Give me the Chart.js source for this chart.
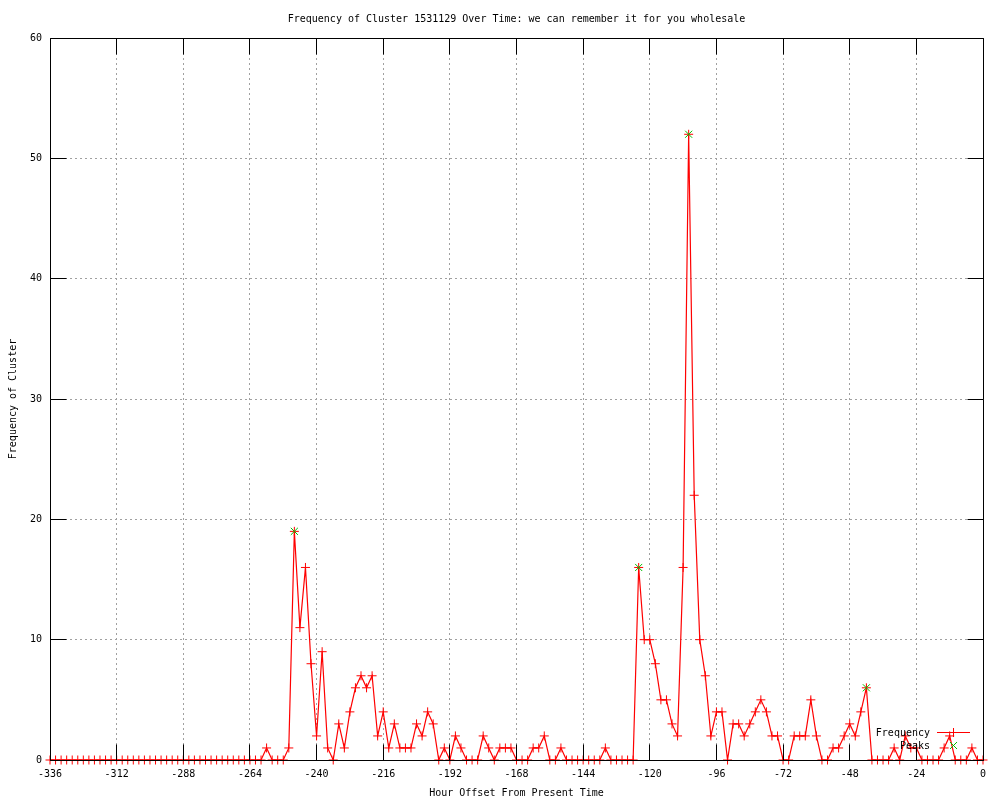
<!DOCTYPE html>
<html lang="en">
<head>
  <meta charset="UTF-8">
  <title>Frequency of Cluster 1531129 Over Time</title>
  <script src="https://cdn.jsdelivr.net/npm/chart.js"></script>
  <style>
    body { margin: 0; background: #fff; }
    #wrap { width: 1000px; height: 800px; }
  </style>
</head>
<body>
  <div id="wrap"><canvas id="freqChart" width="1000" height="800"></canvas></div>

  <script>
    // hour offsets (x) and cluster frequency (y), one row = 24 hours
    const hours = [
      -336, -334, -332, -330, -328, -326, -324, -322, -320, -318, -316, -314,
      -312, -310, -308, -306, -304, -302, -300, -298, -296, -294, -292, -290,
      -288, -286, -284, -282, -280, -278, -276, -274, -272, -270, -268, -266,
      -264, -262, -260, -258, -256, -254, -252, -250, -248, -246, -244, -242,
      -240, -238, -236, -234, -232, -230, -228, -226, -224, -222, -220, -218,
      -216, -214, -212, -210, -208, -206, -204, -202, -200, -198, -196, -194,
      -192, -190, -188, -186, -184, -182, -180, -178, -176, -174, -172, -170,
      -168, -166, -164, -162, -160, -158, -156, -154, -152, -150, -148, -146,
      -144, -142, -140, -138, -136, -134, -132, -130, -128, -126, -124, -122,
      -120, -118, -116, -114, -112, -110, -108, -106, -104, -102, -100, -98,
      -96, -94, -92, -90, -88, -86, -84, -82, -80, -78, -76, -74,
      -72, -70, -68, -66, -64, -62, -60, -58, -56, -54, -52, -50,
      -48, -46, -44, -42, -40, -38, -36, -34, -32, -30, -28, -26,
      -24, -22, -20, -18, -16, -14, -12, -10, -8, -6, -4, -2,
      0
    ];
    const frequency = [
      0, 0, 0, 0, 0, 0, 0, 0, 0, 0, 0, 0,
      0, 0, 0, 0, 0, 0, 0, 0, 0, 0, 0, 0,
      0, 0, 0, 0, 0, 0, 0, 0, 0, 0, 0, 0,
      0, 0, 0, 1, 0, 0, 0, 1, 19, 11, 16, 8,
      2, 9, 1, 0, 3, 1, 4, 6, 7, 6, 7, 2,
      4, 1, 3, 1, 1, 1, 3, 2, 4, 3, 0, 1,
      0, 2, 1, 0, 0, 0, 2, 1, 0, 1, 1, 1,
      0, 0, 0, 1, 1, 2, 0, 0, 1, 0, 0, 0,
      0, 0, 0, 0, 1, 0, 0, 0, 0, 0, 16, 10,
      10, 8, 5, 5, 3, 2, 16, 52, 22, 10, 7, 2,
      4, 4, 0, 3, 3, 2, 3, 4, 5, 4, 2, 2,
      0, 0, 2, 2, 2, 5, 2, 0, 0, 1, 1, 2,
      3, 2, 4, 6, 0, 0, 0, 0, 1, 0, 2, 1,
      1, 0, 0, 0, 0, 1, 2, 0, 0, 0, 1, 0,
      0
    ];
    const peakHours = [-248, -124, -106, -42];
    const peakValues = [19, 16, 52, 6];

    const xTicks = [-336, -312, -288, -264, -240, -216, -192, -168, -144, -120, -96, -72, -48, -24, 0];
    const yTicks = [0, 10, 20, 30, 40, 50, 60];

    const FONT = '"DejaVu Sans Mono", "Liberation Mono", monospace';
    const RED = '#ff0000';
    const GREEN = '#00c000';

    function align(p) { return Math.round(p - 0.5) + 0.5; }

    // border, inward ticks on all four sides, and the in-plot key
    const gnuplotFrame = {
      id: 'gnuplotFrame',
      afterDatasetsDraw(chart) {
        const { ctx, chartArea: a, scales: { x, y } } = chart;
        const L = align(a.left), R = align(a.right), T = align(a.top), B = align(a.bottom);
        const tic = 16;
        ctx.save();
        ctx.strokeStyle = '#000';
        ctx.lineWidth = 1;
        ctx.beginPath();
        ctx.rect(L, T, R - L, B - T);
        xTicks.forEach(v => {
          const px = align(x.getPixelForValue(v));
          ctx.moveTo(px, B); ctx.lineTo(px, B - tic);
          ctx.moveTo(px, T); ctx.lineTo(px, T + tic);
        });
        yTicks.forEach(v => {
          const py = align(y.getPixelForValue(v));
          ctx.moveTo(L, py); ctx.lineTo(L + tic, py);
          ctx.moveTo(R, py); ctx.lineTo(R - tic, py);
        });
        ctx.stroke();

        // key
        ctx.font = '10px ' + FONT;
        ctx.fillStyle = '#000';
        ctx.textAlign = 'right';
        ctx.textBaseline = 'middle';
        ctx.fillText('Frequency', 930, 733);
        ctx.fillText('Peaks', 930, 746);

        ctx.strokeStyle = RED;
        ctx.beginPath();
        ctx.moveTo(937, 732.5); ctx.lineTo(970, 732.5);
        ctx.moveTo(953.5, 728); ctx.lineTo(953.5, 737);
        ctx.stroke();

        ctx.strokeStyle = GREEN;
        ctx.beginPath();
        ctx.moveTo(950, 742); ctx.lineTo(957, 749);
        ctx.moveTo(957, 742); ctx.lineTo(950, 749);
        ctx.stroke();
        ctx.restore();
      }
    };

    new Chart(document.getElementById('freqChart'), {
      type: 'line',
      data: {
        datasets: [
          {
            label: 'Peaks',
            data: peakHours.map((h, i) => ({ x: h, y: peakValues[i] })),
            showLine: false,
            pointStyle: 'crossRot',
            pointRadius: 5,
            pointBorderColor: GREEN,
            pointBorderWidth: 1,
            borderColor: GREEN,
            clip: false,
            order: 0
          },
          {
            label: 'Frequency',
            data: hours.map((h, i) => ({ x: h, y: frequency[i] })),
            borderColor: RED,
            borderWidth: 1.2,
            tension: 0,
            pointStyle: 'cross',
            pointRadius: 4.5,
            pointBorderColor: RED,
            pointBorderWidth: 1,
            clip: false,
            order: 1
          }
        ]
      },
      options: {
        responsive: false,
        animation: false,
        events: [],
        layout: { padding: { top: 0, right: 17, bottom: 0, left: 0 } },
        plugins: {
          legend: { display: false },
          tooltip: { enabled: false },
          title: {
            display: true,
            fullSize: false,
            text: 'Frequency of Cluster 1531129 Over Time: we can remember it for you wholesale',
            color: '#000',
            font: { family: FONT, size: 10, weight: 'normal' },
            padding: { top: 13, bottom: 13 }
          }
        },
        scales: {
          x: {
            type: 'linear',
            min: -336,
            max: 0,
            afterBuildTicks: s => { s.ticks = xTicks.map(v => ({ value: v })); },
            afterFit: s => { s.height = 40; },
            ticks: {
              autoSkip: false,
              maxRotation: 0,
              padding: 8,
              color: '#000',
              font: { family: FONT, size: 10 },
              callback: v => String(v)
            },
            grid: { color: '#a0a0a0', lineWidth: 1, drawTicks: false },
            border: { display: false, dash: [2, 3] },
            title: {
              display: true,
              text: 'Hour Offset From Present Time',
              color: '#000',
              font: { family: FONT, size: 10 },
              padding: { top: 0, bottom: 1 }
            }
          },
          y: {
            min: 0,
            max: 60,
            afterBuildTicks: s => { s.ticks = yTicks.map(v => ({ value: v })); },
            afterFit: s => { s.width = 50; },
            ticks: {
              padding: 8,
              color: '#000',
              font: { family: FONT, size: 10 },
              callback: v => String(v)
            },
            grid: { color: '#a0a0a0', lineWidth: 1, drawTicks: false },
            border: { display: false, dash: [2, 3] },
            title: {
              display: true,
              text: 'Frequency of Cluster',
              color: '#000',
              font: { family: FONT, size: 10 },
              padding: { top: 7, bottom: 0 }
            }
          }
        }
      },
      plugins: [gnuplotFrame]
    });
  </script>
</body>
</html>
